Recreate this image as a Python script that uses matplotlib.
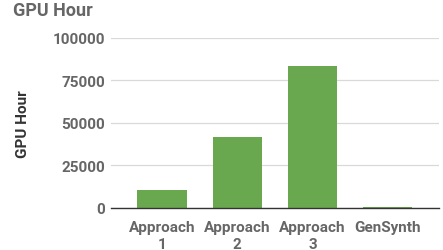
import matplotlib.pyplot as plt

categories = ["Approach\n1", "Approach\n2", "Approach\n3", "GenSynth"]
gpu_hours = [10300, 41500, 83300, 500]
yticks = [0, 25000, 50000, 75000, 100000]

plt.rcParams['font.family'] = ['Roboto', 'DejaVu Sans']
grey = "#666666"

fig = plt.figure(figsize=(4.43, 2.51), dpi=100)
ax = fig.add_axes([110.7/443, 1 - 208.7/251, (439 - 110.7)/443, (208.7 - 39)/251])

ax.bar(range(len(categories)), gpu_hours, width=0.655, color="#6aa84f", zorder=3)
ax.set_xlim(-0.68, 3.68)
ax.set_ylim(0, 100000)
ax.set_yticks(yticks)
ax.set_yticklabels([str(t) for t in yticks])
ax.set_xticks(range(len(categories)))
ax.set_xticklabels(categories, linespacing=1.3)
ax.grid(axis="y", color="#d9d9d9", linewidth=0.9, zorder=0)
for s in ["top", "right", "left"]:
    ax.spines[s].set_visible(False)
ax.spines["bottom"].set_color("#333333")
ax.spines["bottom"].set_linewidth(1.0)
ax.spines["bottom"].set_zorder(4)
ax.tick_params(axis="x", length=0, labelsize=11, labelcolor=grey, pad=9)
ax.tick_params(axis="y", length=0, labelsize=11, labelcolor=grey, pad=4)
for lbl in ax.get_xticklabels() + ax.get_yticklabels():
    lbl.set_fontweight("bold")
ax.set_ylabel("GPU Hour", fontsize=11, fontweight="bold", color="#333333", labelpad=16)
fig.text(13/443, 1 - 11/251, "GPU Hour", fontsize=13, fontweight="bold", color=grey, va="center", ha="left")

fig.savefig("out.png", dpi=100)
